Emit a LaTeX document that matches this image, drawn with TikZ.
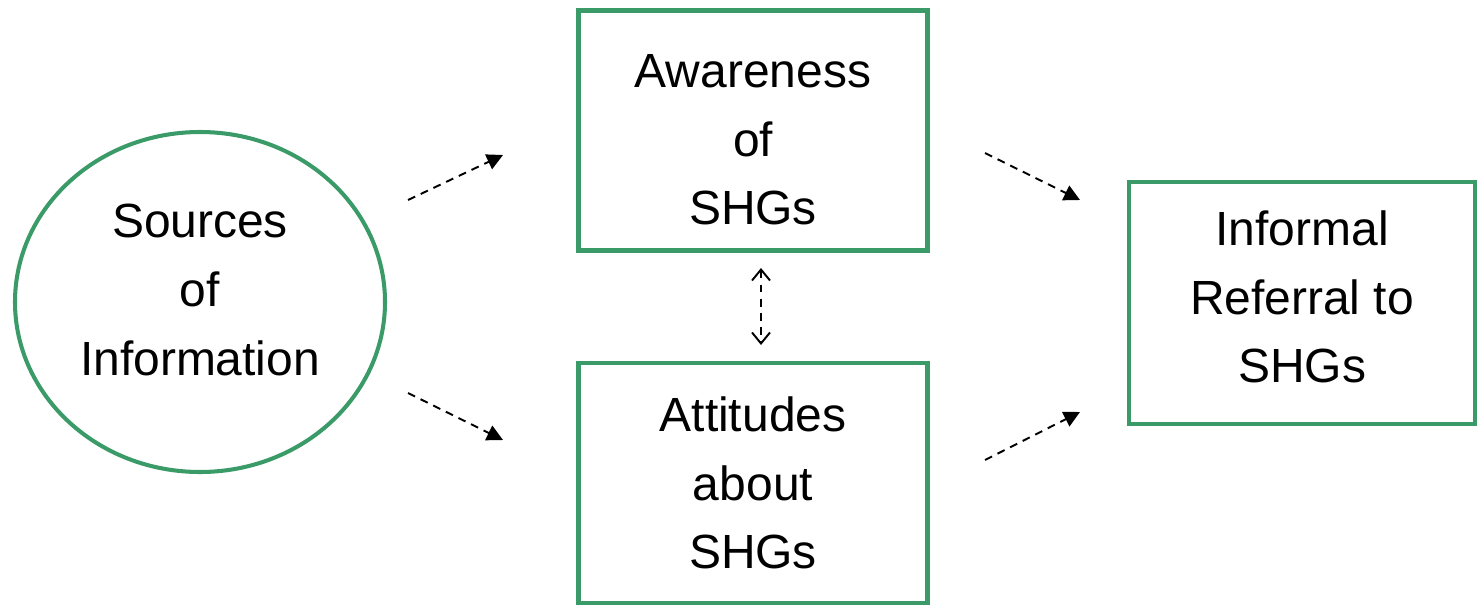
\documentclass[tikz,border=0pt]{standalone}
\usepackage{fontspec}
\setmainfont{Liberation Sans}
\usetikzlibrary{shapes.geometric,arrows.meta}
\definecolor{boxgreen}{RGB}{58,155,104}
\tikzset{
  frame/.style={draw=boxgreen,line width=2.3pt,inner sep=0pt},
  flowbox/.style={frame,rectangle,minimum width=6.98cm,minimum height=4.8cm},
  flowtext/.style={align=center,inner sep=0pt},
  flowarrow/.style={dash pattern=on 4.5pt off 3.5pt,line width=1.1pt,
    -{Triangle[length=0.32cm,width=0.32cm]}},
  linkarrow/.style={dash pattern=on 4.5pt off 3.5pt,line width=1.1pt,
    {Straight Barb[length=0.22cm,width=0.36cm]}-{Straight Barb[length=0.22cm,width=0.36cm]}}
}
\begin{document}
\begin{tikzpicture}[x=1cm,y=1cm,font=\fontsize{27.3}{39}\selectfont]
  \useasboundingbox (0,0) rectangle (29.56,12.08);
  % frames
  \node[frame,ellipse,minimum width=7.4cm,minimum height=6.8cm] (src) at (4.00,6.04) {};
  \node[flowbox] (aware) at (15.06,9.47) {};
  \node[flowbox] (attit) at (15.06,2.42) {};
  \node[flowbox,minimum width=6.92cm,minimum height=4.84cm] (refer) at (26.04,6.02) {};
  % texts
  \node[flowtext] (srcText) at ([yshift=0.24cm]src.center) {Sources\\of\\Information};
  \node[flowtext] (awareText) at ([yshift=-0.19cm]aware.center) {Awareness\\of\\SHGs};
  \node[flowtext] (attitText) at (attit.center) {Attitudes\\about\\SHGs};
  \node[flowtext] (referText) at ([yshift=0.12cm]refer.center) {Informal\\Referral to\\SHGs};
  % arrow ends
  \coordinate (srcA) at (8.16,8.08);
  \coordinate (awareIn) at (10.06,8.98);
  \coordinate (srcB) at (8.16,4.22);
  \coordinate (attitIn) at (10.06,3.28);
  \coordinate (awareOut) at (19.70,9.02);
  \coordinate (referA) at (21.60,8.08);
  \coordinate (attitOut) at (19.70,2.88);
  \coordinate (referB) at (21.60,3.84);
  \coordinate (linkTop) at (15.22,6.72);
  \coordinate (linkBot) at (15.22,5.18);
  % connectors
  \draw[flowarrow] (srcA) -- (awareIn);
  \draw[flowarrow] (srcB) -- (attitIn);
  \draw[flowarrow] (awareOut) -- (referA);
  \draw[flowarrow] (attitOut) -- (referB);
  \draw[linkarrow] (linkTop) -- (linkBot);
\end{tikzpicture}
\end{document}
